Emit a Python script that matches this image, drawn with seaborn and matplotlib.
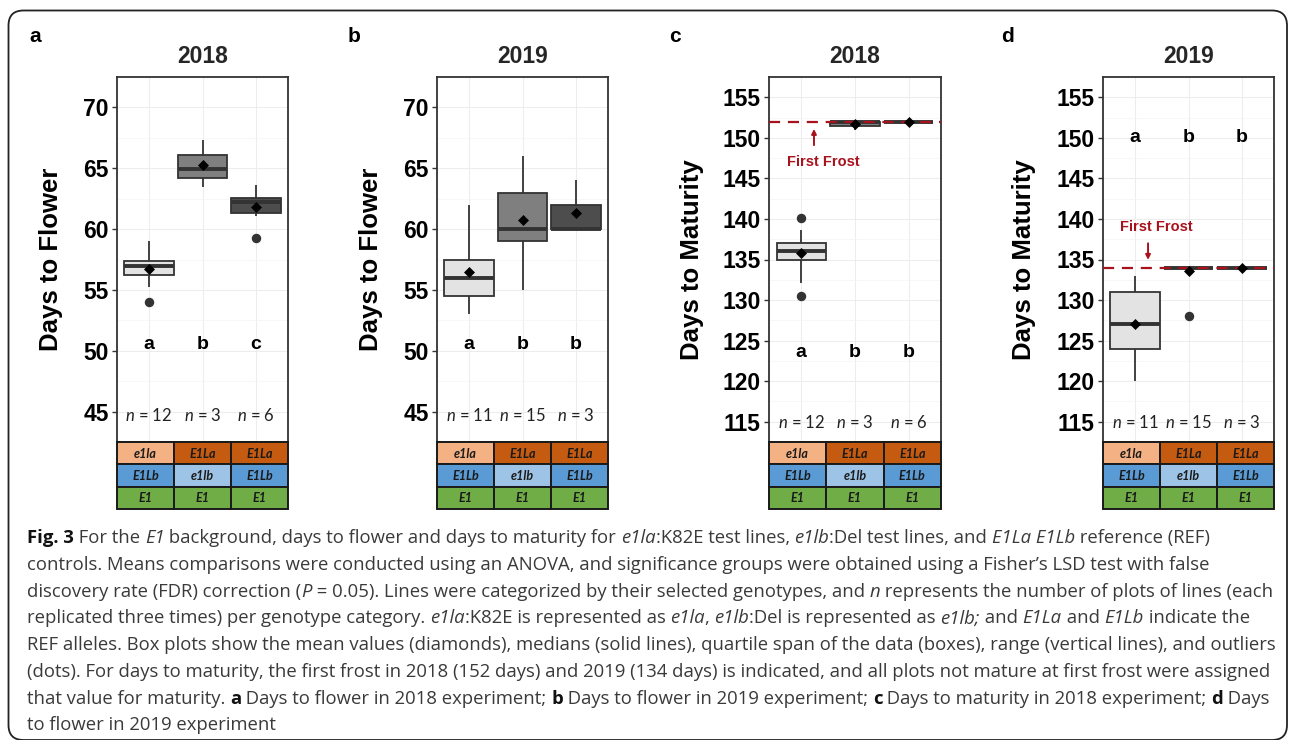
import numpy as np
import pandas as pd
import matplotlib
matplotlib.use("Agg")
import matplotlib.pyplot as plt
import seaborn as sns
from matplotlib.patches import Rectangle, FancyBboxPatch

# ------------------------------------------------------------------ data
genotypes = ["e1la E1Lb E1", "E1La e1lb E1", "E1La E1Lb E1"]
allele_row1 = ["e1la", "E1La", "E1La"]
allele_row2 = ["E1Lb", "e1lb", "E1Lb"]
allele_row3 = ["E1", "E1", "E1"]
row1_colors = ["#F4B183", "#C55A11", "#C55A11"]
row2_colors = ["#5B9BD5", "#9DC3E6", "#5B9BD5"]
row3_colors = ["#70AD47", "#70AD47", "#70AD47"]
box_fills = ["#E3E3E3", "#7F7F7F", "#4D4D4D"]

# days to flower 2018 (panel a)
flower18_e1la = [54.0, 55.2, 56.0, 56.33, 56.67, 56.9, 57.0, 57.0, 57.33, 57.67, 58.0, 59.0]
flower18_e1lb = [63.5, 64.9, 67.35]
flower18_ref = [59.3, 61.1, 62.1, 62.3, 62.65, 63.65]
# days to flower 2019 (panel b)
flower19_e1la = [53, 54, 54, 55, 55, 56, 57, 57, 58, 60, 62]
flower19_e1lb = [55, 57, 58, 59, 59, 59, 60, 60, 61, 62, 63, 63, 64, 65, 66]
flower19_ref = [60, 60, 64]
# days to maturity 2018 (panel c)
mat18_e1la = [130.5, 132.1, 134.67, 135.11, 135.67, 136.0, 136.0, 136.33, 136.89, 137.33, 138.6, 140.15]
mat18_e1lb = [151, 152, 152]
mat18_ref = [152, 152, 152, 152, 152, 152]
# days to maturity 2019 (panel d)
mat19_e1la = [120, 122, 124, 124, 125, 127, 128, 131, 131, 132, 133]
mat19_e1lb = [134] * 14 + [128]
mat19_ref = [134, 134, 134]

sig_a = ["a", "b", "c"]
sig_b = ["a", "b", "b"]
sig_c = ["a", "b", "b"]
sig_d = ["a", "b", "b"]
frost_2018 = 152
frost_2019 = 134

# ------------------------------------------------------------------ style
sns.set_theme(style="white")
plt.rcParams["font.family"] = ["Liberation Sans", "DejaVu Sans"]
plt.rcParams["mathtext.fontset"] = "custom"
plt.rcParams["mathtext.it"] = "Lato:italic"
plt.rcParams["mathtext.rm"] = "Lato"

W, H = 1290, 740
fig = plt.figure(figsize=(W / 100, H / 100), dpi=100)
fig.patch.set_facecolor("white")
canvas = fig.add_axes([0, 0, 1, 1], zorder=-1)
canvas.set_xlim(0, W)
canvas.set_ylim(H, 0)
canvas.axis("off")
canvas.add_patch(FancyBboxPatch((8.5, 10.5), 1278.5, 729.5,
                                boxstyle="round,pad=0,rounding_size=15",
                                fill=False, ec="#222222", lw=1.3))

DARK = "#333333"
FROST = "#A8121D"
AX_TOP, AX_BOT, TAB_BOT = 77, 442, 509

panels = [
    dict(letter="a", title="2018", ylabel="Days to Flower",
         data=[flower18_e1la, flower18_e1lb, flower18_ref], sig=sig_a,
         left=117, right=288, ylim=(43.82, 71.25), ticks=[45, 50, 55, 60, 65, 70],
         sig_y=50.5, n_y=44.7, frost=None, let_x=29, ylab_x=51),
    dict(letter="b", title="2019", ylabel="Days to Flower",
         data=[flower19_e1la, flower19_e1lb, flower19_ref], sig=sig_b,
         left=437, right=608, ylim=(43.82, 71.25), ticks=[45, 50, 55, 60, 65, 70],
         sig_y=50.5, n_y=44.7, frost=None, let_x=348, ylab_x=371),
    dict(letter="c", title="2018", ylabel="Days to Maturity",
         data=[mat18_e1la, mat18_e1lb, mat18_ref], sig=sig_c,
         left=769, right=941, ylim=(113.1, 157.0),
         ticks=[115, 120, 125, 130, 135, 140, 145, 150, 155],
         sig_y=123.5, n_y=114.9, frost=frost_2018,
         frost_txt=(0.405, 147.0), arrow=(0.237, 149.1, 151.1),
         let_x=669, ylab_x=692),
    dict(letter="d", title="2019", ylabel="Days to Maturity",
         data=[mat19_e1la, mat19_e1lb, mat19_ref], sig=sig_d,
         left=1103, right=1274, ylim=(113.1, 157.0),
         ticks=[115, 120, 125, 130, 135, 140, 145, 150, 155],
         sig_y=150.0, n_y=114.9, frost=frost_2019,
         frost_txt=(0.39, 139.0), arrow=(0.243, 137.0, 134.95),
         let_x=1001, ylab_x=1024),
]

for p in panels:
    ax = fig.add_axes([p["left"] / W, 1 - AX_BOT / H,
                       (p["right"] - p["left"]) / W, (AX_BOT - AX_TOP) / H])
    df = pd.DataFrame({
        "genotype": np.repeat(genotypes, [len(v) for v in p["data"]]),
        "days": np.concatenate([np.asarray(v, float) for v in p["data"]]),
    })
    sns.boxplot(data=df, x="genotype", y="days", hue="genotype",
                order=genotypes, hue_order=genotypes, palette=box_fills,
                saturation=1, width=0.92, gap=0, linecolor=DARK, linewidth=1.3,
                showcaps=False, whis=1.5, legend=False, ax=ax,
                medianprops=dict(linewidth=2.8, color=DARK),
                flierprops=dict(marker="o", markerfacecolor=DARK,
                                markeredgecolor=DARK, markersize=5.8),
                zorder=2)
    if p["frost"] is not None:
        ax.axhline(p["frost"], color=FROST, lw=1.6, ls=(0, (5, 3.5)), zorder=4)
        ax.text(p["frost_txt"][0], p["frost_txt"][1], "First Frost", color=FROST,
                fontsize=10.5, fontweight="bold", ha="center", va="center", zorder=6)
        ax.annotate("", xy=(p["arrow"][0], p["arrow"][2]),
                    xytext=(p["arrow"][0], p["arrow"][1]),
                    arrowprops=dict(arrowstyle="-|>", color=FROST, lw=1.4,
                                    mutation_scale=7, shrinkA=0, shrinkB=0),
                    zorder=6)
    sns.pointplot(data=df, x="genotype", y="days", order=genotypes,
                  estimator="mean", errorbar=None, color="black",
                  marker="D", linestyle="none", markersize=5.5,
                  markeredgewidth=0.5, ax=ax, zorder=7)

    ax.set_xlim(-0.6, 2.6)
    ax.set_ylim(*p["ylim"])
    ax.set_yticks(p["ticks"])
    ax.set_yticklabels([str(t) for t in p["ticks"]], fontsize=16.5, fontweight="bold",
                       color="black")
    minors = [t + 2.5 for t in p["ticks"]] + [p["ticks"][0] - 2.5]
    ax.set_yticks(minors, minor=True)
    ax.set_xticks([0, 1, 2])
    ax.grid(True, which="major", color="#EDEDED", lw=0.8)
    ax.grid(True, which="minor", axis="y", color="#F4F4F4", lw=0.5)
    ax.xaxis.grid(True, which="major", color="#EDEDED", lw=0.8)
    ax.set_axisbelow(True)
    ax.tick_params(axis="x", length=0, labelbottom=False)
    ax.tick_params(axis="y", which="major", length=3.5, width=1, color=DARK,
                   pad=2.5, left=True)
    ax.tick_params(axis="y", which="minor", length=0)
    ax.set_xlabel("")
    ax.set_ylabel("")
    for s in ax.spines.values():
        s.set_visible(True)
        s.set_color(DARK)
        s.set_linewidth(1.3)
    ax.set_title(p["title"], fontsize=16.5, fontweight="bold", pad=10)

    for i, (letter, vals) in enumerate(zip(p["sig"], p["data"])):
        ax.text(i, p["sig_y"], letter, fontsize=14, fontweight="bold",
                ha="center", va="center", zorder=6, color="black")
        ax.text(i, p["n_y"], r"$n$ = %d" % len(vals), fontsize=12,
                family="Lato", ha="center", va="center", color="#222222")

    # genotype table under the axis
    tax = fig.add_axes([p["left"] / W, 1 - TAB_BOT / H,
                        (p["right"] - p["left"]) / W, (TAB_BOT - AX_BOT) / H])
    tax.set_xlim(0, 3)
    tax.set_ylim(3, 0)
    tax.axis("off")
    for r, (labels, colors) in enumerate([(allele_row1, row1_colors),
                                          (allele_row2, row2_colors),
                                          (allele_row3, row3_colors)]):
        for c in range(3):
            tax.add_patch(Rectangle((c, r), 1, 1, fc=colors[c], ec="#1A1A1A",
                                    lw=1.4, clip_on=False))
            tax.text(c + 0.5, r + 0.52, labels[c], ha="center", va="center",
                     fontsize=9, fontweight="bold", style="italic", family="Lato",
                     color="#1A1A1A")

    canvas.text(p["let_x"], 42, p["letter"], fontsize=15, fontweight="bold",
                ha="left", va="baseline", color="black")
    canvas.text(p["ylab_x"], 259.5, p["ylabel"], fontsize=18.5, fontweight="bold",
                rotation=90, ha="center", va="center", color="black")

# ------------------------------------------------------------------ caption
CAP_FAMILY = "Open Sans"
styles = {
    "r": dict(weight="normal", style="normal"),
    "i": dict(weight="normal", style="italic"),
    "b": dict(weight="bold", style="normal"),
}
caption_lines = [
    [("Fig. 3", "b"), (" For the ", "r"), ("E1", "i"),
     (" background, days to flower and days to maturity for ", "r"), ("e1la", "i"),
     (":K82E test lines, ", "r"), ("e1lb", "i"), (":Del test lines, and ", "r"),
     ("E1La E1Lb", "i"), (" reference (REF)", "r")],
    [("controls. Means comparisons were conducted using an ANOVA, and significance "
      "groups were obtained using a Fisher\u2019s LSD test with false", "r")],
    [("discovery rate (FDR) correction (", "r"), ("P", "i"),
     (" = 0.05). Lines were categorized by their selected genotypes, and ", "r"),
     ("n", "i"), (" represents the number of plots of lines (each", "r")],
    [("replicated three times) per genotype category. ", "r"), ("e1la", "i"),
     (":K82E is represented as ", "r"), ("e1la", "i"), (", ", "r"), ("e1lb", "i"),
     (":Del is represented as ", "r"), ("e1lb;", "i"), (" and ", "r"), ("E1La", "i"),
     (" and ", "r"), ("E1Lb", "i"), (" indicate the", "r")],
    [("REF alleles. Box plots show the mean values (diamonds), medians (solid lines), "
      "quartile span of the data (boxes), range (vertical lines), and outliers", "r")],
    [("(dots). For days to maturity, the first frost in 2018 (152 days) and 2019 "
      "(134 days) is indicated, and all plots not mature at first frost were assigned", "r")],
    [("that value for maturity. ", "r"), ("a", "b"),
     (" Days to flower in 2018 experiment; ", "r"), ("b", "b"),
     (" Days to flower in 2019 experiment; ", "r"), ("c", "b"),
     (" Days to maturity in 2018 experiment; ", "r"), ("d", "b"), (" Days", "r")],
    [("to flower in 2019 experiment", "r")],
]
target_right = [1211.7, 1211.7, 1276.0, 1240.7, 1266.7, 1262.7, 1273.3]
CAP_LEFT = 27.0
renderer = fig.canvas.get_renderer()


def seg_width(text, st, size):
    t = canvas.text(0, 0, "|" + text + "|", family=CAP_FAMILY, fontsize=size, **styles[st])
    w1 = t.get_window_extent(renderer).width
    t.set_text("||")
    w0 = t.get_window_extent(renderer).width
    t.remove()
    return w1 - w0


base = 10.0
meas = [sum(seg_width(s, st, base) for s, st in line) for line in caption_lines[:7]]
targets = [r - CAP_LEFT for r in target_right]
cap_size = base * sum(targets) / sum(meas)

for k, line in enumerate(caption_lines):
    x = CAP_LEFT
    y = 543.3 + 26.7 * k
    for s, st in line:
        col = "#111111" if st == "b" else "#3A3A3A"
        canvas.text(x, y, s, family=CAP_FAMILY, fontsize=cap_size, color=col,
                    ha="left", va="baseline", **styles[st])
        x += seg_width(s, st, cap_size)

fig.savefig("out.png", dpi=100)
